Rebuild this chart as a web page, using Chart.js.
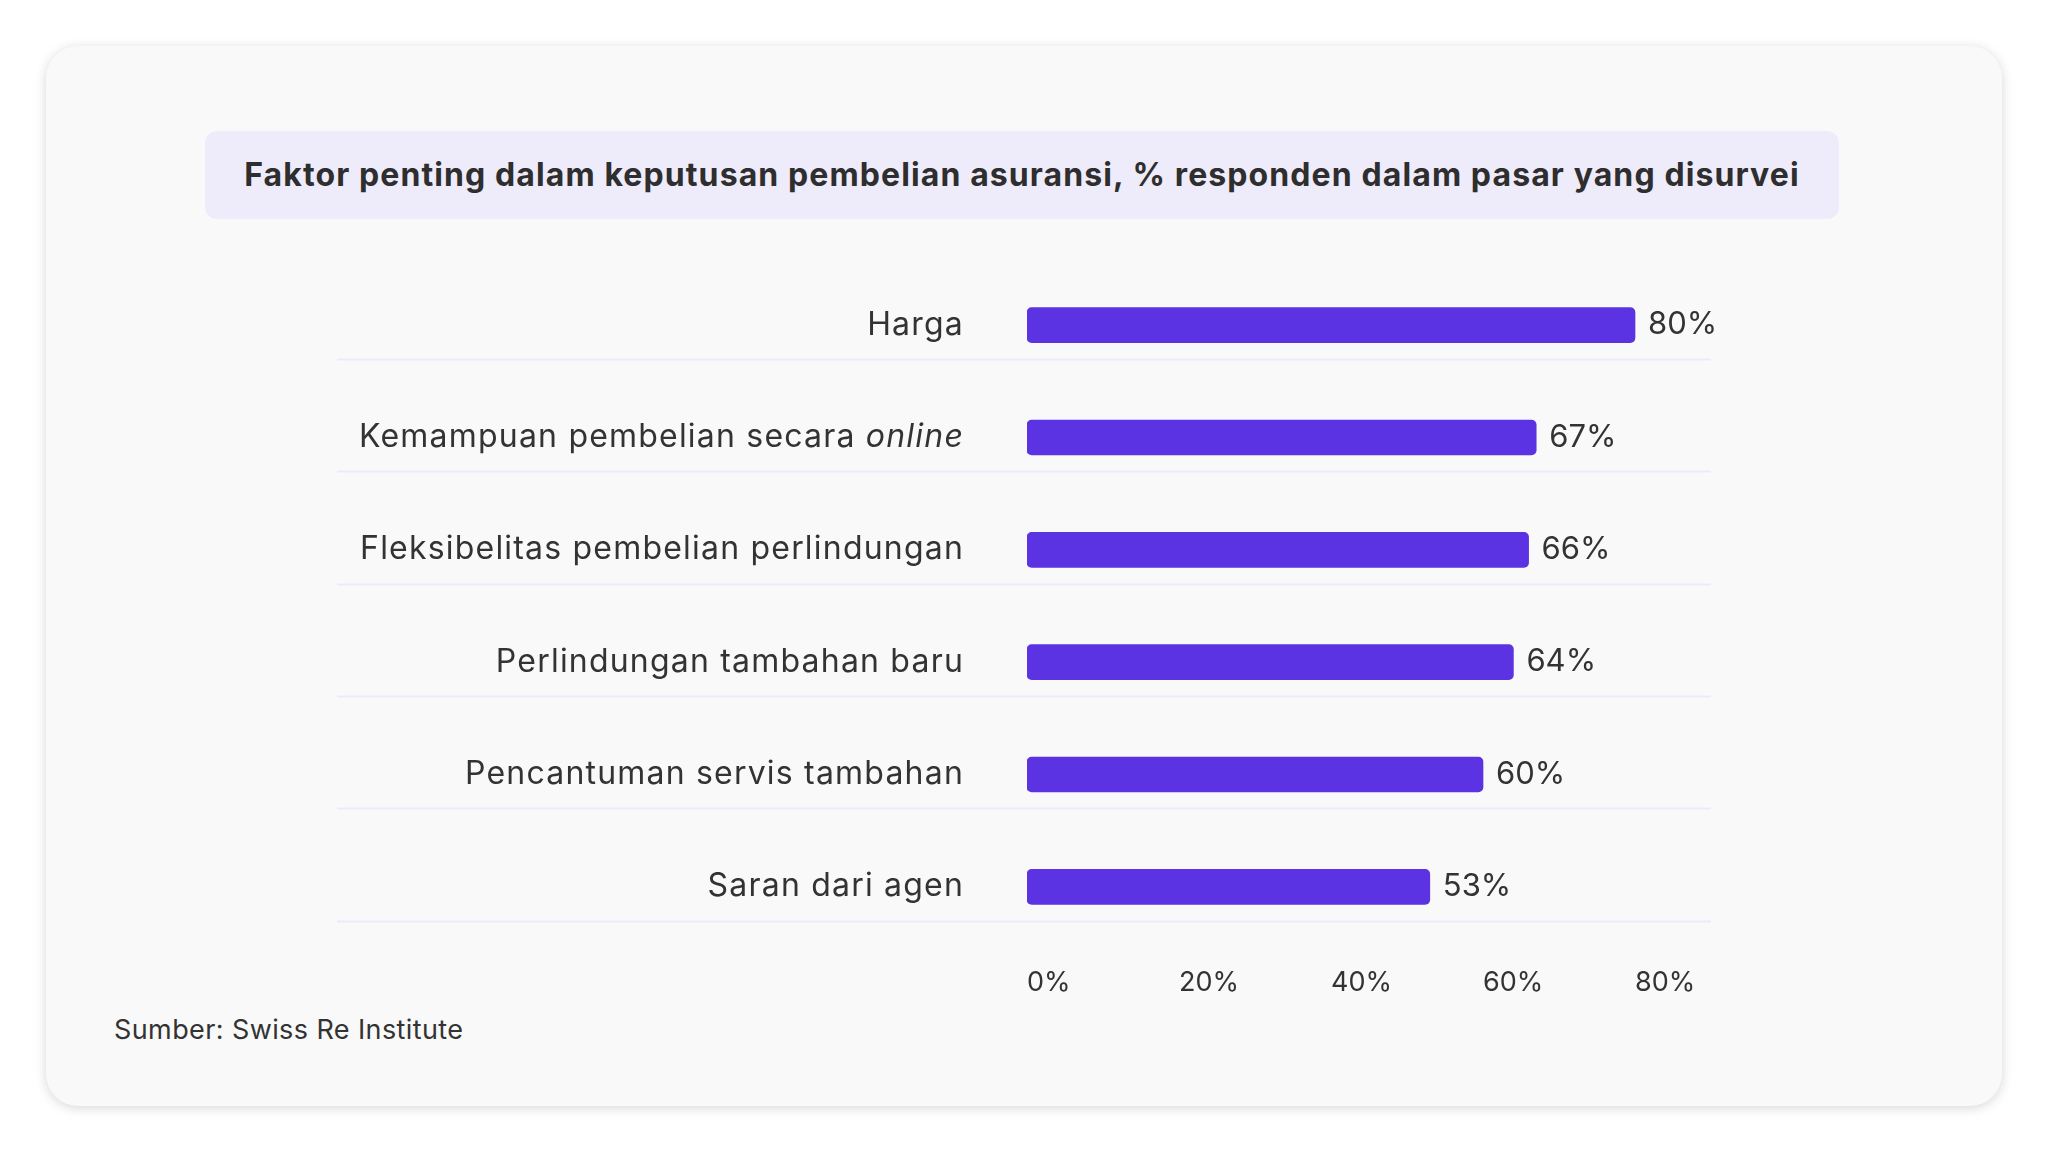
<!DOCTYPE html>
<html>
<head>
<meta charset="utf-8">
<script src="https://cdn.jsdelivr.net/npm/chart.js@4.4.1/dist/chart.umd.min.js"></script>
<style>
  html, body { margin: 0; padding: 0; background: #ffffff; width: 2048px; height: 1152px; overflow: hidden; font-family: Inter, "Noto Sans", sans-serif; }
  #card { position: absolute; left: 46px; top: 46px; width: 1956px; height: 1060px; border-radius: 32px; background: #f9f9f9; box-shadow: 0 2px 12px rgba(0,0,0,0.16); }
  #title { position: absolute; left: 205px; top: 131px; width: 1634px; height: 88px; border-radius: 12px; background: #eeebfb; color: #2e2e2e; font-weight: 700; font-size: 32px; letter-spacing: 1.1px; line-height: 88px; text-align: center; }
  #source { position: absolute; left: 114px; top: 1012px; font-size: 27px; letter-spacing: 0.4px; color: #333333; line-height: 36px; }
  #wrap { position: absolute; left: 0; top: 0; width: 2048px; height: 1152px; }
</style>
</head>
<body>
<div id="card"></div>
<div id="title">Faktor penting dalam keputusan pembelian asuransi, % responden dalam pasar yang disurvei</div>
<div id="source">Sumber: Swiss Re Institute</div>
<div id="wrap"><canvas id="c" width="2048" height="1152"></canvas></div>
<script>
const categories = ["Harga", "Kemampuan pembelian secara online", "Fleksibelitas pembelian perlindungan", "Perlindungan tambahan baru", "Pencantuman servis tambahan", "Saran dari agen"];
const italicWords = ["online"];
const values = [80, 67, 66, 64, 60, 53];
const tickValues = [0, 20, 40, 60, 80];

const FONT = "Inter, 'Noto Sans', sans-serif";
const TEXT = "#333333";

const rowDecor = {
  id: 'rowDecor',
  beforeDatasetsDraw(chart) {
    const ctx = chart.ctx, y = chart.scales.y, area = chart.chartArea;
    const step = (y.getPixelForValue(1) - y.getPixelForValue(0));
    ctx.save();
    ctx.strokeStyle = '#ecebfa';
    ctx.lineWidth = 2;
    categories.forEach((c, i) => {
      const py = Math.round(y.getPixelForValue(i) + step * 0.3) + 0.5;
      ctx.beginPath();
      ctx.moveTo(337, py);
      ctx.lineTo(area.right, py);
      ctx.stroke();
    });
    ctx.restore();
  },
  afterDatasetsDraw(chart) {
    const ctx = chart.ctx, y = chart.scales.y, area = chart.chartArea;
    const meta = chart.getDatasetMeta(0);
    ctx.save();
    ctx.fillStyle = TEXT;
    ctx.textBaseline = 'middle';
    const rightX = area.left - 63;
    ctx.letterSpacing = '1.2px';
    categories.forEach((c, i) => {
      const py = y.getPixelForValue(i);
      const words = c.split(' ');
      const parts = words.map((w, k) => ({ text: (k ? ' ' : '') + w, italic: italicWords.includes(w) }));
      const widths = parts.map(p => { ctx.font = (p.italic ? 'italic ' : '') + '32px ' + FONT; return ctx.measureText(p.text).width; });
      const total = widths.reduce((a, b) => a + b, 0);
      let x = rightX - total;
      ctx.textAlign = 'left';
      parts.forEach((p, k) => {
        ctx.font = (p.italic ? 'italic ' : '') + '32px ' + FONT;
        ctx.fillText(p.text, x, py);
        x += widths[k];
      });
    });
    ctx.letterSpacing = '0px';
    ctx.font = '31px ' + FONT;
    ctx.textAlign = 'left';
    meta.data.forEach((bar, i) => {
      ctx.fillText(values[i] + '%', bar.x + 13, bar.y);
    });
    ctx.restore();
  }
};

new Chart(document.getElementById('c'), {
  type: 'bar',
  data: {
    labels: categories,
    datasets: [{
      data: values,
      backgroundColor: '#5c33e2',
      barThickness: 35,
      borderRadius: 5,
      borderSkipped: false
    }]
  },
  options: {
    indexAxis: 'y',
    responsive: false,
    animation: false,
    events: [],
    layout: { padding: { left: 1027, right: 337, top: 269, bottom: 149 } },
    plugins: { legend: { display: false }, tooltip: { enabled: false } },
    scales: {
      y: { display: false },
      x: {
        min: 0, max: 90,
        grid: { display: false, drawTicks: false },
        border: { display: false },
        afterBuildTicks(scale) { scale.ticks = tickValues.map(v => ({ value: v })); },
        afterFit(scale) { scale.height = 60; },
        ticks: {
          align: 'start',
          padding: 24,
          color: TEXT,
          font: { family: FONT, size: 27 },
          callback: v => v + '%'
        }
      }
    }
  },
  plugins: [rowDecor]
});
</script>
</body>
</html>
